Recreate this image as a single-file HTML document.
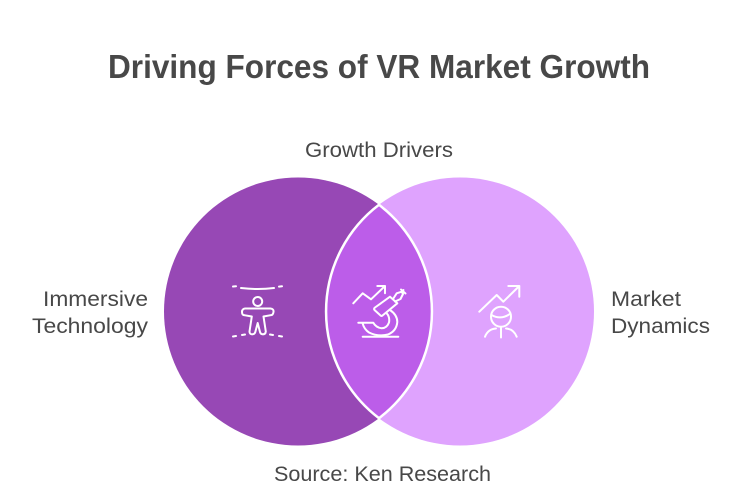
<!DOCTYPE html>
<html lang="en">
<head>
<meta charset="utf-8">
<title>Driving Forces of VR Market Growth</title>
<style>
html,body{margin:0;padding:0;background:#fff}
svg{display:block}
text{font-family:"Liberation Sans",sans-serif;fill:#484848}
.l{font-size:21.5px}
.ic{fill:none;stroke:#fff;stroke-width:2;stroke-linecap:round;stroke-linejoin:round}
</style>
</head>
<body>
<svg width="745" height="502" viewBox="0 0 745 502">
<rect width="745" height="502" fill="#fff"/>
<text x="108" y="78" font-size="33" font-weight="700" textLength="542" lengthAdjust="spacingAndGlyphs">Driving Forces of VR Market Growth</text>
<text class="l" x="305" y="157" textLength="148" lengthAdjust="spacingAndGlyphs">Growth Drivers</text>

<circle cx="298" cy="311.5" r="134" fill="#9748b5"/>
<circle cx="460" cy="311.5" r="134" fill="#dfa3fe"/>
<path d="M379 204.8A134 134 0 0 1 379 418.2A134 134 0 0 1 379 204.8Z" fill="#bc5de9" stroke="#fff" stroke-width="2.5"/>

<text class="l" x="148" y="306" text-anchor="end" textLength="105" lengthAdjust="spacingAndGlyphs">Immersive</text>
<text class="l" x="148" y="333" text-anchor="end" textLength="116" lengthAdjust="spacingAndGlyphs">Technology</text>
<text class="l" x="611" y="306" textLength="70" lengthAdjust="spacingAndGlyphs">Market</text>
<text class="l" x="611" y="333" textLength="99" lengthAdjust="spacingAndGlyphs">Dynamics</text>
<text class="l" x="274" y="481" textLength="217" lengthAdjust="spacingAndGlyphs">Source: Ken Research</text>

<g class="ic">
<path d="M233 286.500l3-.2M241 288Q258 290 274 288M279 286.600l3-.3"/>
<circle cx="257.700" cy="301.500" r="4.500"/>
<path d="M245 308.500L270.500 308.500Q274 309 273.500 312Q273 315.500 270 315.300L263.500 316.500L265.800 331.500Q265.500 334.500 262.500 334.300Q260.500 334 260 332L257.700 323L255.300 332Q254.800 334 252.500 334.300Q249.500 334.500 249.500 331.500L251.800 316.500L245 315.300Q242 315.500 242 312Q242 309 245 308.500Z"/>
<path d="M233 336.500l3-.5M242 335l3-.5M270 334.500l3 .5M279 336l3 .5"/>
</g>

<g class="ic">
<path d="M353.300 303.300L362.700 293.300L371 299.300L385 286M377.300 286L385 286L385 293.300"/>
<path d="M375 307.500L390 296.700L397.300 303.300L382.500 315.500Q381 316.500 380 315L374.500 310Q373.500 308.500 375 307.500Z"/>
<path d="M393 299L396.700 293.300L401.700 291.700L403 294L400.500 299L395 301.500M401.700 291.700L403.500 290M401 289.500L405.500 293.500"/>
<path d="M390 310Q397.300 315 397.300 322Q396.500 331 388 334.500Q378 337 369 332.500Q364 329 362.700 323.500"/>
<path d="M358.300 322.700L373.300 322.700Q376 327.500 381.700 328.300Q387 328 389 322.500Q390 317 386.700 313.300"/>
<path d="M362.700 336.700L398.300 336.700"/>
</g>

<g class="ic">
<path d="M479.300 311.700L496.700 295L503.300 301.700L519.300 286M508.300 286L519.300 286L519.300 296.700"/>
<circle cx="501" cy="316.700" r="10"/>
<path d="M491.500 315Q501 320.500 510.500 313.500"/>
<path d="M485 336.700Q488 329 496 328.500M516.700 336.700Q513.500 329 506 328.500M501 327L501 337.500"/>
</g>
</svg>
</body>
</html>
